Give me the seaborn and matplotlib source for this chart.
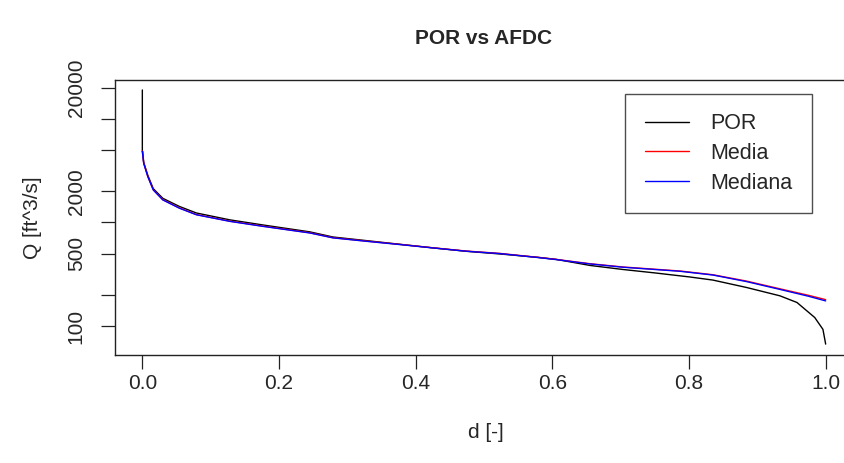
import numpy as np
import pandas as pd
import matplotlib
matplotlib.use("Agg")
import matplotlib.pyplot as plt
import seaborn as sns

# Flow duration curves: exceedance fraction d vs discharge Q
d_por = [0.0, 0.0, 0.0005, 0.002, 0.008, 0.016, 0.030, 0.054, 0.079, 0.128, 0.177,
         0.245, 0.279, 0.328, 0.377, 0.425, 0.474, 0.523, 0.580, 0.606, 0.655,
         0.703, 0.750, 0.801, 0.835, 0.884, 0.933, 0.958, 0.984, 0.996, 1.0]
q_por = [19000, 4850, 4850, 3800, 2850, 2120, 1710, 1430, 1235, 1060, 945,
         812, 724, 668, 616, 569, 527, 497, 460, 440, 385,
         352, 326, 298, 278, 236, 196, 169, 121, 93, 67]

d_med = [0.0, 0.002, 0.008, 0.016, 0.030, 0.054, 0.079, 0.128, 0.177,
         0.245, 0.279, 0.328, 0.377, 0.425, 0.474, 0.523, 0.580, 0.606, 0.655,
         0.703, 0.787, 0.835, 0.884, 0.933, 0.975, 1.0]
q_media = [4900, 3750, 2790, 2070, 1660, 1384, 1193, 1030, 921,
           796, 713, 661, 614, 570, 530, 503, 460, 440, 400,
           372, 340, 313, 272, 229, 198, 180]
q_mediana = [4850, 3720, 2770, 2060, 1650, 1375, 1187, 1025, 916,
             792, 710, 658, 612, 568, 528, 501, 458, 438, 398,
             370, 338, 311, 269, 226, 194, 175]

series = ["POR", "Media", "Mediana"]
colors = ["black", "red", "blue"]

y_ticks = [100, 200, 500, 1000, 2000, 5000, 10000, 20000]
y_tick_labels = ["100", "", "500", "", "2000", "", "", "20000"]
x_ticks = [0.0, 0.2, 0.4, 0.6, 0.8, 1.0]
x_tick_labels = ["0.0", "0.2", "0.4", "0.6", "0.8", "1.0"]

df = pd.concat([
    pd.DataFrame({"d": d_por, "Q": q_por, "serie": "POR"}),
    pd.DataFrame({"d": d_med, "Q": q_media, "serie": "Media"}),
    pd.DataFrame({"d": d_med, "Q": q_mediana, "serie": "Mediana"}),
], ignore_index=True)

sns.set_style("white")
plt.rcParams["font.family"] = ["Liberation Sans", "DejaVu Sans"]

W, H = 844, 463
fig = plt.figure(figsize=(W / 100, H / 100), dpi=100)
left, right, top, bottom = 115, 856, 80, 355
ax = fig.add_axes([left / W, 1 - bottom / H, (right - left) / W, (bottom - top) / H])

for name, col in zip(series, colors):
    sub = df[df["serie"] == name]
    sns.lineplot(data=sub, x="d", y="Q", sort=False, estimator=None,
                 color=col, linewidth=1.0, ax=ax, label=name)

ax.set_yscale("log")
ax.set_xlim(-0.04, 1.04 + 3 / 683)
ax.set_ylim(10 ** 1.721, 10 ** 4.375)

ax.set_xticks(x_ticks)
ax.set_xticklabels(x_tick_labels)
ax.set_yticks(y_ticks)
ax.set_yticklabels(y_tick_labels, rotation=90, va="center")
ax.minorticks_off()
ax.tick_params(axis="both", direction="out", length=10, width=0.9, color="#222222",
               labelsize=15, left=True, bottom=True)
ax.tick_params(axis="x", pad=4)
ax.tick_params(axis="y", pad=11)

for s in ax.spines.values():
    s.set_color("#222222")
    s.set_linewidth(1.0)

ax.set_xlabel("d [-]", fontsize=15, labelpad=21)
ax.set_ylabel("Q [ft^3/s]", fontsize=15, labelpad=18)
fig.text((left + 853) / 2 / W, 1 - 38 / H, "POR vs AFDC", ha="center", va="center",
         fontsize=15, fontweight="bold")

# legend box: right edge ~812 px, top ~94 px
lx = (812 - left) / (right - left)
ly = (bottom - 94) / (bottom - top)
leg = ax.legend(loc="upper right", bbox_to_anchor=(lx, ly), fontsize=15.5,
                frameon=True, fancybox=False, edgecolor="#222222",
                handlelength=2.05, handletextpad=1.0, labelspacing=0.4,
                borderpad=0.9, borderaxespad=0.0)
leg.get_frame().set_linewidth(1.0)

fig.savefig("out.png", dpi=100)
